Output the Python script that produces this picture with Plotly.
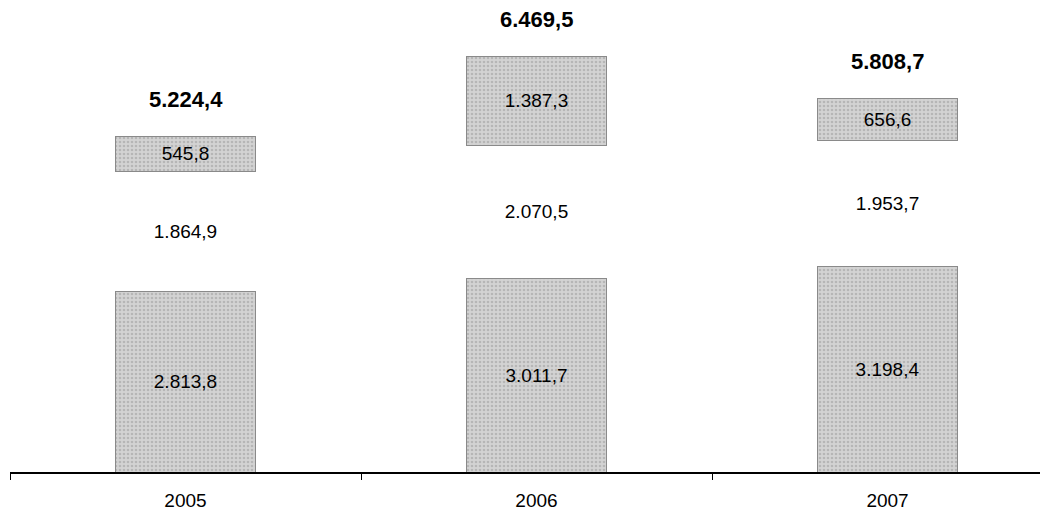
import plotly.graph_objects as go

years = ["2005", "2006", "2007"]
bottom = [2813.8, 3011.7, 3198.4]
middle = [1864.9, 2070.5, 1953.7]
top = [545.8, 1387.3, 656.6]
totals = [5224.4, 6469.5, 5808.7]


def fmt(v):
    s = f"{v:,.1f}"
    return s.replace(",", "X").replace(".", ",").replace("X", ".")


font_family = "Liberation Sans, Arial, sans-serif"
pattern = dict(shape=".", fgcolor="#9a9a9a", bgcolor="#d3d3d3", size=4, solidity=0.35)

fig = go.Figure()
fig.add_trace(go.Bar(
    x=years, y=bottom, width=0.4,
    marker=dict(color="#d0d0d0", line=dict(color="#8a8a8a", width=1), pattern=pattern),
    text=[fmt(v) for v in bottom], textposition="inside", insidetextanchor="middle",
    textfont=dict(color="black", size=19, family=font_family),
))
fig.add_trace(go.Bar(
    x=years, y=middle, width=0.4,
    marker=dict(color="rgba(255,255,255,0)", line=dict(width=0)),
    text=[fmt(v) for v in middle], textposition="inside", insidetextanchor="middle",
    textfont=dict(color="black", size=19, family=font_family),
))
fig.add_trace(go.Bar(
    x=years, y=top, width=0.4,
    marker=dict(color="#d0d0d0", line=dict(color="#8a8a8a", width=1), pattern=pattern),
    text=[fmt(v) for v in top], textposition="inside", insidetextanchor="middle",
    textfont=dict(color="black", size=19, family=font_family),
))

for i, t in enumerate(totals):
    fig.add_annotation(x=i, y=t, xref="x", yref="y", text=f"<b>{fmt(t)}</b>",
                       showarrow=False, yanchor="middle", yshift=37, borderpad=0,
                       font=dict(size=22, color="black", family=font_family))

fig.update_layout(
    barmode="stack",
    showlegend=False,
    width=1048, height=509,
    margin=dict(l=2, r=0, t=0, b=45),
    paper_bgcolor="white", plot_bgcolor="white",
    xaxis=dict(
        type="category", range=[-0.5, 2.48],
        showline=True, linecolor="black", linewidth=1.5,
        ticks="outside", tickson="boundaries", ticklen=6, tickcolor="black",
        ticklabelstandoff=10,
        tickfont=dict(size=19, color="black", family=font_family),
        showgrid=False,
    ),
    yaxis=dict(range=[0, 7216], visible=False, showgrid=False, zeroline=False),
)

fig.write_html("out.html")
